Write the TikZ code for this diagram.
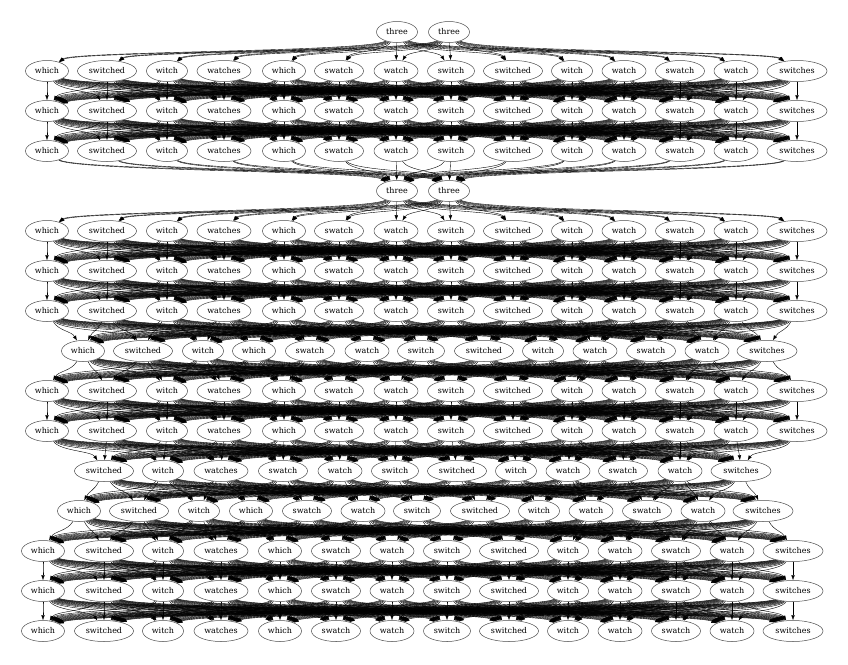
\documentclass[tikz,border=0pt]{standalone}
\usepackage{fontspec}
\setmainfont{DejaVu Serif}
\usetikzlibrary{shapes.geometric,arrows.meta,calc}
\pgfdeclarelayer{edgelayer}
\pgfsetlayers{edgelayer,main}
\def\rowT{397/three/41,449/three/41}
\def\rowA{47/which/43,107/switched/59,167/witch/41,224/watches/54,284/which/43,339/swatch/49,396/watch/44,451/switch/47,513/switched/59,572/witch/41,624/watch/44,680/swatch/49,736/watch/44,797/switches/60}
\def\rowC{43/which/43,104/switched/59,163/witch/41,221/watches/54,280/which/43,336/swatch/49,392/watch/44,447/switch/47,509/switched/59,568/witch/41,620/watch/44,676/swatch/49,732/watch/44,793/switches/60}
\def\rowD{83/which/43,143/switched/59,203/witch/41,254/which/43,310/swatch/49,367/watch/44,421/switch/47,484/switched/59,543/witch/41,595/watch/44,651/swatch/49,707/watch/44,767/switches/60}
\def\rowE{104/switched/59,163/witch/41,221/watches/54,283/swatch/49,340/watch/44,395/switch/47,457/switched/59,516/witch/41,568/watch/44,623/swatch/49,680/watch/44,741/switches/60}
\def\rowF{79/which/43,139/switched/59,199/witch/41,251/which/43,307/swatch/49,363/watch/44,417/switch/47,480/switched/59,539/witch/41,591/watch/44,647/swatch/49,703/watch/44,763/switches/60}
\newcommand\mkwordrow[3]{%
  \foreach \xx/\wordtxt/\ww [count=\i] in #3 {\node[wnode,minimum width=\ww pt] (r#1n\i) at (\xx,#2) {\wordtxt};}}
\newcommand\mkedgeset[4]{%
  \begin{pgfonlayer}{edgelayer}
  \foreach \xa/\ta/\wa [count=\i] in #2 {\foreach \xb/\tb/\wb [count=\j] in #4 {%
    \pgfmathsetmacro\nn{sign(\xb-\xa)*min(abs(\xb-\xa)*0.4,10+abs(\xb-\xa)*0.045)}%
    \draw[edge] (r#1n\i) .. controls ($(r#1n\i)+(\nn,20)$) and ($(r#3n\j)+(-\nn,-20)$) .. (r#3n\j);}}
  \end{pgfonlayer}}
\begin{document}
\begin{tikzpicture}[x=1pt,y=-1pt,
  wnode/.style={ellipse,draw=black!70,fill=white,line width=0.5pt,inner sep=0pt,minimum height=21pt,font=\fontsize{8}{9}\selectfont},
  edge/.style={line width=0.4pt,-{Latex[length=5pt,width=3.6pt]}}]
\useasboundingbox (0,0) rectangle (848,664);
\mkwordrow{0}{32}{\rowT}
\mkwordrow{1}{71}{\rowA}
\mkwordrow{2}{111}{\rowA}
\mkwordrow{3}{151}{\rowA}
\mkwordrow{4}{191}{\rowT}
\mkwordrow{5}{231}{\rowA}
\mkwordrow{6}{271}{\rowA}
\mkwordrow{7}{311}{\rowA}
\mkwordrow{8}{351}{\rowD}
\mkwordrow{9}{391}{\rowA}
\mkwordrow{10}{431}{\rowA}
\mkwordrow{11}{471}{\rowE}
\mkwordrow{12}{511}{\rowF}
\mkwordrow{13}{551}{\rowC}
\mkwordrow{14}{591}{\rowC}
\mkwordrow{15}{631}{\rowC}
\mkedgeset{0}{\rowT}{1}{\rowA}
\mkedgeset{1}{\rowA}{2}{\rowA}
\mkedgeset{2}{\rowA}{3}{\rowA}
\mkedgeset{3}{\rowA}{4}{\rowT}
\mkedgeset{4}{\rowT}{5}{\rowA}
\mkedgeset{5}{\rowA}{6}{\rowA}
\mkedgeset{6}{\rowA}{7}{\rowA}
\mkedgeset{7}{\rowA}{8}{\rowD}
\mkedgeset{8}{\rowD}{9}{\rowA}
\mkedgeset{9}{\rowA}{10}{\rowA}
\mkedgeset{10}{\rowA}{11}{\rowE}
\mkedgeset{11}{\rowE}{12}{\rowF}
\mkedgeset{12}{\rowF}{13}{\rowC}
\mkedgeset{13}{\rowC}{14}{\rowC}
\mkedgeset{14}{\rowC}{15}{\rowC}
\end{tikzpicture}
\end{document}
